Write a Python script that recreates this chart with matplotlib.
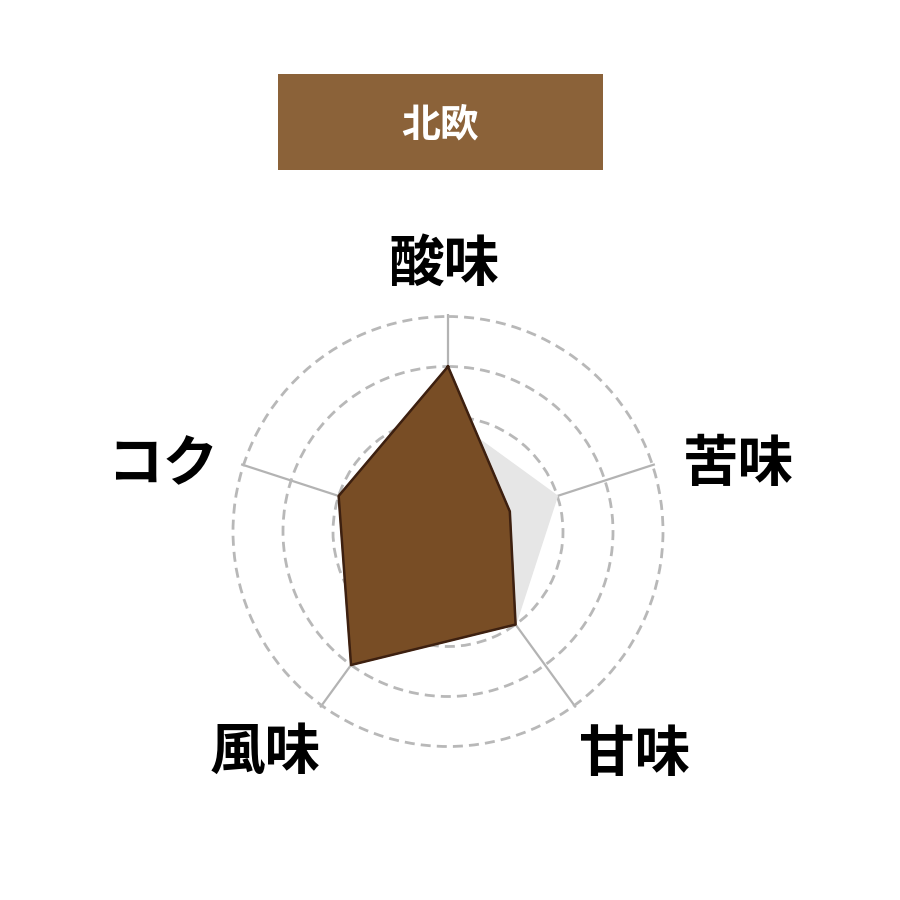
import numpy as np
import matplotlib
matplotlib.use('Agg')
import matplotlib.pyplot as plt
from matplotlib.patches import Rectangle

plt.rcParams['font.family'] = ['Noto Sans CJK JP', 'DejaVu Sans']

# data
title = '北欧'
labels = ['酸味', '苦味', '甘味', '風味', 'コク']
values = [4, 2, 3, 4, 3]
baseline = [3, 3, 3, 3, 3]
rticks = [3, 4, 5]

# label offsets in points from the outer ring
label_offsets = [(-3, 37), (62, 0), (43, -36), (-41, -34), (-58, 0)]

brown = '#784d25'
edge = '#3d2010'
box_color = '#8b6239'

n = len(labels)
angles = np.linspace(0, 2 * np.pi, n, endpoint=False)
ang_c = np.concatenate([angles, angles[:1]])
vals_c = np.concatenate([values, values[:1]])
base_c = np.concatenate([baseline, baseline[:1]])

fig = plt.figure(figsize=(9, 9), dpi=100)
fig.patch.set_facecolor('white')

cx, cy, R = 448 / 900, (900 - 531.5) / 900, 217.5 / 900
ax = fig.add_axes([cx - R, cy - R, 2 * R, 2 * R], projection='polar')
ax.set_theta_zero_location('N')
ax.set_theta_direction(-1)
ax.set_ylim(0.7, 5.05)
ax.set_xticks(angles)
ax.set_xticklabels([])
ax.set_yticks(rticks)
ax.set_yticklabels([])
ax.spines['polar'].set_visible(False)
ax.set_facecolor('none')
ax.set_axisbelow(True)
ax.xaxis.grid(True, color='#b3b3b3', linewidth=1.6, linestyle='-')
ax.yaxis.grid(True, color='#b8b8b8', linewidth=2.0, linestyle=(0, (3.6, 2.2)))
ax.tick_params(length=0)

ax.fill(ang_c, base_c, color='#e6e6e6', zorder=2)
ax.fill(ang_c, vals_c, color=brown, zorder=3)
ax.plot(ang_c, vals_c, color=edge, linewidth=1.8, zorder=4)

for a, lab, off in zip(angles, labels, label_offsets):
    ax.annotate(lab, xy=(a, 5), xytext=off, textcoords='offset points',
                ha='center', va='center', fontsize=40, fontweight='bold',
                color='black', annotation_clip=False)

fig.patches.append(Rectangle((278 / 900, (900 - 170) / 900), 325 / 900, 96 / 900,
                             transform=fig.transFigure, facecolor=box_color,
                             edgecolor='none'))
fig.text(440 / 900, (900 - 125) / 900, title, ha='center', va='center',
         fontsize=28, fontweight='bold', color='white')

fig.savefig('out.png', dpi=100, facecolor='white')
